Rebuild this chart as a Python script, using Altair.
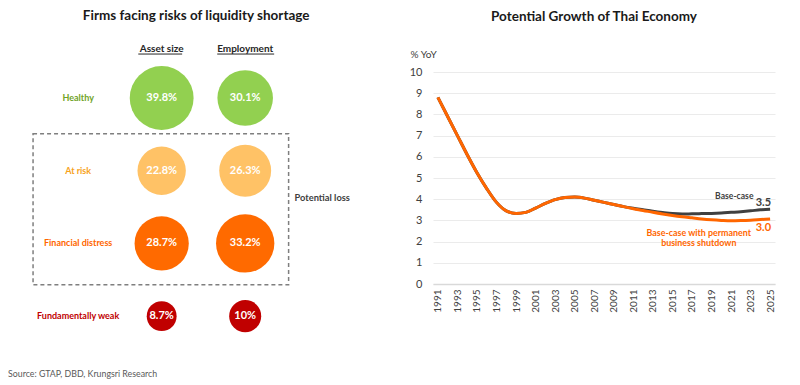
import altair as alt
import pandas as pd

# ---------------- Left panel data ----------------
groups = ["Healthy", "At risk", "Financial distress", "Fundamentally weak"]
measures = ["Asset size", "Employment"]
asset_share = [39.8, 22.8, 28.7, 8.7]
employment_share = [30.1, 26.3, 33.2, 10.0]
asset_labels = ["39.8%", "22.8%", "28.7%", "8.7%"]
employment_labels = ["30.1%", "26.3%", "33.2%", "10%"]
group_fill = ["#92D050", "#FFC266", "#FF6A00", "#C00000"]
group_text = ["#6FA327", "#F7A21B", "#FF6600", "#C00000"]

# ---------------- Right panel data ----------------
years = list(range(1991, 2026))
base_case = [8.8, 7.9, 7.0, 6.1, 5.25, 4.5, 3.85, 3.45, 3.33, 3.38,
             3.58, 3.8, 3.98, 4.08, 4.1, 4.05, 3.95, 3.85, 3.75, 3.65,
             3.57, 3.5, 3.43, 3.37, 3.32, 3.3, 3.31, 3.32, 3.33, 3.35,
             3.38, 3.41, 3.45, 3.5, 3.53]
shutdown = [8.8, 7.9, 7.0, 6.1, 5.25, 4.5, 3.85, 3.45, 3.33, 3.38,
            3.58, 3.8, 3.98, 4.08, 4.1, 4.05, 3.95, 3.85, 3.75, 3.65,
            3.55, 3.47, 3.38, 3.3, 3.23, 3.17, 3.12, 3.07, 3.03, 3.0,
            2.98, 2.99, 3.01, 3.04, 3.07]
series_names = ["Base-case", "Base-case with permanent business shutdown"]
series_colors = ["#404040", "#FF6600"]

FONT = "Lato"

# ---------------- Left panel ----------------
circ_rows = []
for r, g in enumerate(groups):
    circ_rows.append({"group": g, "row": r, "col": 1, "value": asset_share[r], "label": asset_labels[r]})
    circ_rows.append({"group": g, "row": r, "col": 2, "value": employment_share[r], "label": employment_labels[r]})
circ_df = pd.DataFrame(circ_rows)
rowlab_df = pd.DataFrame({"group": groups, "row": list(range(len(groups))), "col": [0] * len(groups)})
head_df = pd.DataFrame({"measure": measures, "col": [1, 2], "row": [-0.67, -0.67],
                        "u0": [0.72, 1.665], "u1": [1.245, 2.347], "urow": [-0.605, -0.605]})
box_df = pd.DataFrame({"x0": [-0.54], "x1": [2.52], "y0": [0.49], "y1": [2.57]})
loss_df = pd.DataFrame({"t": ["Potential loss"], "col": [2.59], "row": [1.37]})
ltitle_df = pd.DataFrame({"t": ["Firms facing risks of liquidity shortage"], "col": [1.413], "row": [-1.13]})
src_df = pd.DataFrame({"t": ["Source: GTAP, DBD, Krungsri Research"], "col": [-0.84], "row": [3.79]})

xs = alt.Scale(domain=[-0.84, 3.71], nice=False, zero=False)
ys = alt.Scale(domain=[-0.358, 3.851], nice=False, zero=False, reverse=True)
X = lambda f: alt.X(f, type="quantitative", scale=xs, axis=None)
Y = lambda f: alt.Y(f, type="quantitative", scale=ys, axis=None)

circles = alt.Chart(circ_df).mark_circle(opacity=1).encode(
    x=X("col"), y=Y("row"),
    size=alt.Size("value:Q", scale=alt.Scale(domain=[0, 40], range=[0, 4100]), legend=None),
    color=alt.Color("group:N", scale=alt.Scale(domain=groups, range=group_fill), legend=None),
)
circ_text = alt.Chart(circ_df).mark_text(color="white", fontWeight="bold", fontSize=11, font=FONT).encode(
    x=X("col"), y=Y("row"), text="label:N")
row_text = alt.Chart(rowlab_df).mark_text(fontWeight="bold", fontSize=9, font=FONT).encode(
    x=X("col"), y=Y("row"), text="group:N",
    color=alt.Color("group:N", scale=alt.Scale(domain=groups, range=group_text), legend=None))
head_text = alt.Chart(head_df).mark_text(fontWeight="bold", fontSize=10, color="#262626", font=FONT).encode(
    x=X("col"), y=Y("row"), text="measure:N")
head_rule = alt.Chart(head_df).mark_rule(color="#262626", strokeWidth=1).encode(
    x=X("u0"), x2="u1", y=Y("urow"))
box = alt.Chart(box_df).mark_rect(fillOpacity=0, stroke="#7F7F7F", strokeWidth=1.5, strokeDash=[4, 3]).encode(
    x=X("x0"), x2="x1", y=Y("y0"), y2="y1")
loss_text = alt.Chart(loss_df).mark_text(align="left", fontWeight="bold", fontSize=9.3, color="#404040", font=FONT).encode(
    x=X("col"), y=Y("row"), text="t:N")
ltitle = alt.Chart(ltitle_df).mark_text(fontWeight="bold", fontSize=13.5, color="#1A1A1A", font=FONT).encode(
    x=X("col"), y=Y("row"), text="t:N")
src = alt.Chart(src_df).mark_text(align="left", fontSize=8.8, color="#595959", font=FONT).encode(
    x=X("col"), y=Y("row"), text="t:N")

left = alt.layer(box, circles, circ_text, row_text, head_text, head_rule, loss_text, ltitle, src).resolve_scale(
    color="independent").properties(width=380, height=306)

# ---------------- Right panel ----------------
line_df = pd.DataFrame({
    "year": years * 2,
    "value": base_case + shutdown,
    "series": [series_names[0]] * len(years) + [series_names[1]] * len(years),
})
xr = alt.Scale(domain=[1990.5, 2025.5], nice=False, zero=False)
yr = alt.Scale(domain=[0, 10], nice=False)
xaxis = alt.Axis(values=list(range(1991, 2026, 2)), format="d", labelAngle=-90, title=None, grid=False,
                 ticks=False, domainColor="#D9D9D9", domainWidth=1.5, labelColor="#404040",
                 labelFontSize=10, labelPadding=5, labelFont=FONT, labelOverlap=False)
yaxis = alt.Axis(values=list(range(0, 11)), title="% YoY", titleAngle=0, titleAlign="left",
                 titleBaseline="middle", titleX=-23, titleY=-18, titleFontWeight="normal",
                 titleFontSize=10, titleColor="#404040", titleFont=FONT,
                 grid=True, gridColor="#EBEBEB", domain=False, ticks=False, labelPadding=11,
                 labelFontSize=11, labelColor="#404040", labelFont=FONT, labelOverlap=False)
XR = lambda: alt.X("year:Q", scale=xr, axis=xaxis)
YR = lambda: alt.Y("value:Q", scale=yr, axis=yaxis)
cscale = alt.Scale(domain=series_names, range=series_colors)

base_line = alt.Chart(line_df).transform_filter(alt.datum.series == series_names[0]).mark_line(
    strokeWidth=3, interpolate="monotone").encode(
    x=XR(), y=YR(), color=alt.Color("series:N", scale=cscale, legend=None))
shut_line = alt.Chart(line_df).transform_filter(alt.datum.series == series_names[1]).mark_line(
    strokeWidth=3, interpolate="monotone").encode(
    x=XR(), y=YR(), color=alt.Color("series:N", scale=cscale, legend=None))

ann_small = pd.DataFrame({"year": [2023.3], "value": [4.15], "t": ["Base-case"]})
ann_end = pd.DataFrame({"year": [2025.1, 2025.1], "value": [3.82, 2.66], "t": ["3.5", "3.0"],
                        "series": series_names})
ann_orange = pd.DataFrame({"year": [2017.7, 2017.7], "value": [2.42, 1.92],
                           "t": ["Base-case with permanent", "business shutdown"]})

t1 = alt.Chart(ann_small).mark_text(align="right", fontWeight="bold", fontSize=8.6, color="#404040", font=FONT).encode(
    x=XR(), y=YR(), text="t:N")
t2 = alt.Chart(ann_end).mark_text(align="right", fontWeight="bold", fontSize=11, font=FONT).encode(
    x=XR(), y=YR(), text="t:N", color=alt.Color("series:N", scale=cscale, legend=None))
t3 = alt.Chart(ann_orange).mark_text(align="center", fontWeight="bold", fontSize=8.9, color="#FF6600", font=FONT).encode(
    x=XR(), y=YR(), text="t:N")

right = alt.layer(base_line, shut_line, t1, t2, t3).properties(
    width=342, height=212,
    title=alt.TitleParams("Potential Growth of Thai Economy", fontSize=13.5, fontWeight="bold",
                          color="#1A1A1A", font=FONT, frame="group", anchor="middle", offset=26, dx=-10))

chart = alt.hconcat(left, right, spacing=21).properties(padding=0).configure(
    font=FONT).configure_view(stroke=None)

chart.save("out.html", embed_options={"renderer": "svg", "actions": False})
